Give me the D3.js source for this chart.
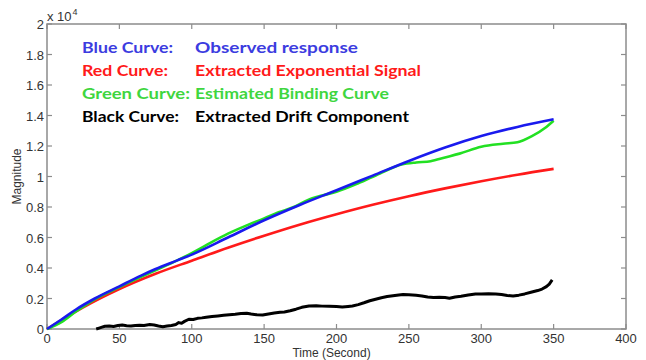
<!DOCTYPE html>
<html lang="en">
<head>
  <meta charset="UTF-8" />
  <title>Magnitude vs Time</title>
  <script src="https://d3js.org/d3.v7.min.js"></script>
  <style>
    body {
      margin: 0;
      padding: 0;
      background: #ffffff;
    }
    .tick-label {
      font-family: "Liberation Sans", Arial, sans-serif;
      font-size: 13px;
      fill: #333;
    }
    .legend text {
      font-family: Lato, "Open Sans", sans-serif;
      font-weight: bold;
      font-size: 16px;
    }
  </style>
</head>
<body>
<div id="chart"></div>
<script>
  // Data (time in seconds, magnitude in raw units)
  const blueT = [0, 10, 20, 33, 50, 65, 75, 90, 100, 125, 150, 175, 200, 225, 250, 275, 300, 325, 350];
  const blueY = [0, 620, 1280, 2000, 2800, 3500, 3930, 4500, 4880, 6000, 7130, 8150, 9100, 10060, 11020, 11900, 12650, 13250, 13750];

  const redT = [0, 10, 25, 50, 75, 100, 125, 150, 175, 200, 225, 250, 275, 300, 325, 350];
  const redY = [0, 580, 1420, 2620, 3620, 4480, 5330, 6120, 6860, 7530, 8150, 8710, 9220, 9690, 10120, 10500];

  const greenT = [0, 10, 20, 33, 50, 65, 75, 90, 100, 110, 125, 140, 150, 160, 170, 180, 190, 200, 215, 230, 245, 255, 265, 275, 285, 300, 315, 325, 335, 345, 350];
  const greenY = [0, 450, 1150, 1950, 2750, 3420, 3850, 4500, 4980, 5500, 6250, 6880, 7250, 7650, 7980, 8450, 8750, 9000, 9550, 10200, 10780, 10920, 11000, 11250, 11500, 11950, 12150, 12250, 12650, 13250, 13650];

  const blackT = [34, 36, 38, 40, 43, 46, 49, 52, 55, 58, 61, 64, 67, 71, 74, 77, 80, 83, 86, 89, 91, 93, 95, 98, 101, 104, 107, 110, 114, 118, 122, 126, 130, 134, 138, 141, 145, 149, 153, 157, 161, 164, 168, 172, 176, 181, 186, 190, 195, 200, 204, 208, 211, 215, 219, 223, 227, 231, 235, 239, 243, 246, 250, 255, 259, 263, 267, 271, 275, 278, 282, 286, 291, 296, 300, 305, 310, 314, 318, 322, 326, 330, 335, 339, 342, 345, 347, 349];
  const blackY = [0, 60, 120, 180, 200, 170, 230, 260, 220, 200, 230, 250, 230, 290, 260, 200, 150, 190, 230, 300, 420, 380, 500, 640, 620, 700, 730, 770, 820, 860, 900, 940, 970, 1010, 1030, 980, 930, 920, 990, 1050, 1100, 1120, 1200, 1300, 1420, 1510, 1520, 1500, 1490, 1470, 1440, 1480, 1510, 1600, 1720, 1850, 1950, 2050, 2130, 2180, 2230, 2260, 2250, 2210, 2170, 2100, 2070, 2080, 2060, 2020, 2100, 2150, 2230, 2300, 2290, 2310, 2300, 2260, 2200, 2170, 2220, 2300, 2430, 2520, 2620, 2780, 2950, 3220];

  const xTicks = [0, 50, 100, 150, 200, 250, 300, 350, 400];
  const yTicks = [0, 2000, 4000, 6000, 8000, 10000, 12000, 14000, 16000, 18000, 20000];
  const yTickLabels = ["0", "0.2", "0.4", "0.6", "0.8", "1", "1.2", "1.4", "1.6", "1.8", "2"];

  const legendNames = ["Blue Curve:", "Red Curve:", "Green Curve:", "Black Curve:"];
  const legendDescs = ["Observed response", "Extracted Exponential Signal", "Estimated Binding Curve", "Extracted Drift Component"];

  const width = 646;
  const height = 360;
  const margin = { top: 24, right: 20, bottom: 31, left: 47 };

  const svg = d3.select("#chart")
    .append("svg")
    .attr("width", width)
    .attr("height", height);

  const x = d3.scaleLinear().domain([0, 400]).range([margin.left, width - margin.right]);
  const y = d3.scaleLinear().domain([0, 20000]).range([height - margin.bottom, margin.top]);

  const axisColor = "#8c8c8c";
  const tickLen = 5;

  // Box
  svg.append("rect")
    .attr("x", x(0))
    .attr("y", y(20000))
    .attr("width", x(400) - x(0))
    .attr("height", y(0) - y(20000))
    .attr("fill", "none")
    .attr("stroke", axisColor)
    .attr("stroke-width", 1.5);

  // Inward ticks on all four sides, MATLAB style
  const ticks = svg.append("g").attr("stroke", axisColor).attr("stroke-width", 1.2);
  xTicks.forEach(t => {
    ticks.append("line").attr("x1", x(t)).attr("x2", x(t)).attr("y1", y(0)).attr("y2", y(0) - tickLen);
    ticks.append("line").attr("x1", x(t)).attr("x2", x(t)).attr("y1", y(20000)).attr("y2", y(20000) + tickLen);
  });
  yTicks.forEach(v => {
    ticks.append("line").attr("x1", x(0)).attr("x2", x(0) + tickLen).attr("y1", y(v)).attr("y2", y(v));
    ticks.append("line").attr("x1", x(400)).attr("x2", x(400) - tickLen).attr("y1", y(v)).attr("y2", y(v));
  });

  // Tick labels
  svg.selectAll(".xlab")
    .data(xTicks)
    .enter()
    .append("text")
    .attr("class", "tick-label")
    .attr("text-anchor", "middle")
    .attr("x", d => x(d))
    .attr("y", y(0) + 14)
    .text(d => d);

  svg.selectAll(".ylab")
    .data(yTicks)
    .enter()
    .append("text")
    .attr("class", "tick-label")
    .attr("text-anchor", "end")
    .attr("x", x(0) - 3)
    .attr("y", d => y(d) + 5)
    .text((d, i) => yTickLabels[i]);

  // Exponent label
  const expo = svg.append("text")
    .attr("class", "tick-label")
    .attr("x", x(0))
    .attr("y", y(20000) - 3);
  expo.append("tspan").text("x 10");
  expo.append("tspan").attr("font-size", "9px").attr("dy", -6).attr("dx", 1).text("4");

  // Axis titles
  svg.append("text")
    .attr("class", "tick-label")
    .style("font-size", "12px")
    .attr("text-anchor", "middle")
    .attr("x", (x(0) + x(400)) / 2 - 5)
    .attr("y", height - 3)
    .text("Time (Second)");

  svg.append("text")
    .attr("class", "tick-label")
    .style("font-size", "12px")
    .attr("text-anchor", "middle")
    .attr("transform", `translate(21, ${(y(0) + y(20000)) / 2}) rotate(-90)`)
    .text("Magnitude");

  // Curves
  const smooth = d3.line()
    .x(d => x(d[0]))
    .y(d => y(d[1]))
    .curve(d3.curveMonotoneX);

  const jagged = d3.line()
    .x(d => x(d[0]))
    .y(d => y(d[1]));

  const zip = (ts, ys) => ts.map((t, i) => [t, ys[i]]);

  const series = [
    { pts: zip(blackT, blackY), color: "#000000", w: 3, gen: jagged },
    { pts: zip(redT, redY), color: "#ff1a1a", w: 2.6, gen: smooth },
    { pts: zip(greenT, greenY), color: "#22e022", w: 2.6, gen: smooth },
    { pts: zip(blueT, blueY), color: "#1a1aee", w: 2.6, gen: smooth }
  ];

  svg.selectAll(".curve")
    .data(series)
    .enter()
    .append("path")
    .attr("class", "curve")
    .attr("fill", "none")
    .attr("stroke", d => d.color)
    .attr("stroke-width", d => d.w)
    .attr("stroke-linejoin", "round")
    .attr("d", d => d.gen(d.pts));

  // Legend text
  const legendColors = ["#3c3ce0", "#ff1a1a", "#3fd63f", "#000000"];
  const nameWidths = [91, 86, 108, 97];
  const descWidths = [163, 226, 194, 214];
  const legend = svg.append("g").attr("class", "legend");
  legendNames.forEach((n, i) => {
    const yy = 53 + i * 23;
    legend.append("text")
      .attr("x", 82)
      .attr("y", yy)
      .attr("fill", legendColors[i])
      .attr("textLength", nameWidths[i])
      .attr("lengthAdjust", "spacingAndGlyphs")
      .text(n);
    legend.append("text")
      .attr("x", 195)
      .attr("y", yy)
      .attr("fill", legendColors[i])
      .attr("textLength", descWidths[i])
      .attr("lengthAdjust", "spacingAndGlyphs")
      .text(legendDescs[i]);
  });
</script>
</body>
</html>
